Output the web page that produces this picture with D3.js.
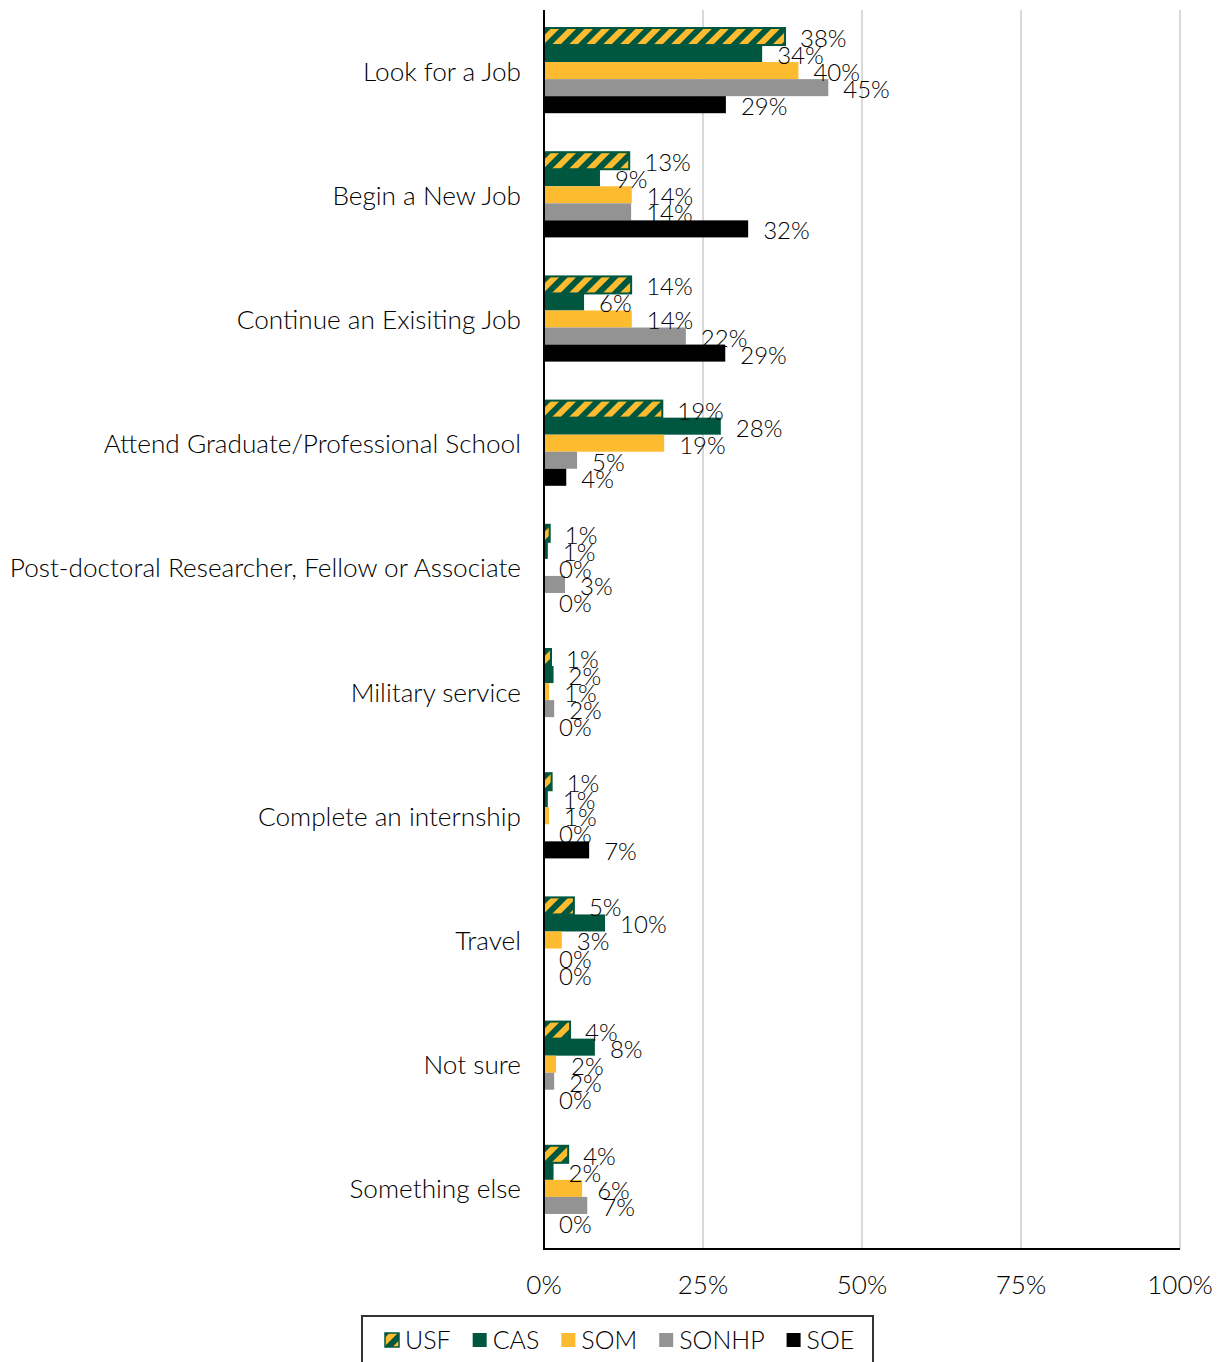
<html>
<head>
  <title>Plans after graduation</title>
  <script src="https://cdnjs.cloudflare.com/ajax/libs/d3/7.8.5/d3.min.js"></script>
  <style>
    body { margin: 0; background: #fff; }
    text { font-family: Lato, "Open Sans", sans-serif; font-weight: 300; fill: #000; }
  </style>
</head>
<body>
<script type="text/javascript">
  // categories, top to bottom
  var categories = ["Look for a Job", "Begin a New Job", "Continue an Exisiting Job",
    "Attend Graduate/Professional School", "Post-doctoral Researcher, Fellow or Associate",
    "Military service", "Complete an internship", "Travel", "Not sure", "Something else"];

  var seriesNames = ["USF", "CAS", "SOM", "SONHP", "SOE"];

  // values in %
  var usf   = [37.9, 13.4, 13.7, 18.6, 0.9, 1.1, 1.2, 4.7, 4.1, 3.8];
  var cas   = [34.3,  8.8,  6.3, 27.8, 0.6, 1.5, 0.6, 9.6, 8.0, 1.5];
  var som   = [40.0, 13.8, 13.8, 18.9, 0.0, 0.8, 0.8, 2.8, 1.9, 6.0];
  var sonhp = [44.7, 13.7, 22.3,  5.2, 3.3, 1.6, 0.0, 0.0, 1.6, 6.8];
  var soe   = [28.6, 32.1, 28.5,  3.5, 0.0, 0.0, 7.1, 0.0, 0.0, 0.0];

  var ticks = [0, 25, 50, 75, 100];

  var seriesValues = [usf, cas, som, sonhp, soe];
  var colors = ["url(#stripes)", "#00573f", "#fdbb30", "#939393", "#000000"];

  var width = 1221, height = 1362;

  var svg = d3.select("body").append("svg")
    .attr("width", width)
    .attr("height", height);

  // striped fill for USF
  var pat = svg.append("defs").append("pattern")
    .attr("id", "stripes")
    .attr("patternUnits", "userSpaceOnUse")
    .attr("width", 12)
    .attr("height", 12)
    .attr("patternTransform", "rotate(45)");
  pat.append("rect").attr("width", 12).attr("height", 12).attr("fill", "#fdbb30");
  pat.append("rect").attr("width", 6).attr("height", 12).attr("fill", "#00573f");

  var x = d3.scaleLinear().domain([0, 100]).range([544, 1180]);

  var y = d3.scaleBand()
    .domain(categories)
    .range([10, 1249])
    .paddingInner(0.314)
    .paddingOuter(0.145);

  var y1 = d3.scaleBand()
    .domain(seriesNames)
    .range([0, y.bandwidth()]);

  // gridlines
  svg.selectAll("line.grid")
    .data(ticks.slice(1))
    .enter().append("line")
    .attr("class", "grid")
    .attr("x1", function (d) { return x(d); })
    .attr("x2", function (d) { return x(d); })
    .attr("y1", 10)
    .attr("y2", 1249)
    .attr("stroke", "#d9d9d9")
    .attr("stroke-width", 2);

  // tick labels
  svg.selectAll("text.tick")
    .data(ticks)
    .enter().append("text")
    .attr("class", "tick")
    .attr("x", function (d) { return x(d); })
    .attr("y", 1294)
    .attr("text-anchor", "middle")
    .style("font-size", "26px")
    .text(function (d) { return d + "%"; });

  // bars
  var groups = svg.selectAll("g.cat")
    .data(categories)
    .enter().append("g")
    .attr("class", "cat")
    .attr("transform", function (d) { return "translate(0," + y(d) + ")"; });

  groups.each(function (c, ci) {
    var g = d3.select(this);
    var rows = seriesNames.map(function (s, si) {
      return { s: s, si: si, v: seriesValues[si][ci] };
    });

    g.selectAll("rect")
      .data(rows)
      .enter().append("rect")
      .attr("x", x(0))
      .attr("y", function (d) { return y1(d.s); })
      .attr("width", function (d) { return x(d.v) - x(0); })
      .attr("height", y1.bandwidth())
      .attr("fill", function (d) { return colors[d.si]; })
      .attr("stroke", function (d) { return d.si === 0 && d.v > 0 ? "#00573f" : "none"; })
      .attr("stroke-width", 2);

    g.selectAll("text")
      .data(rows)
      .enter().append("text")
      .attr("x", function (d) { return x(d.v) + 15; })
      .attr("y", function (d) { return y1(d.s) + y1.bandwidth() / 2 + 1; })
      .attr("dominant-baseline", "central")
      .style("font-size", "24px")
      .text(function (d) { return Math.round(d.v) + "%"; });
  });

  // category labels
  svg.selectAll("text.cat")
    .data(categories)
    .enter().append("text")
    .attr("class", "cat")
    .attr("x", 521)
    .attr("y", function (d) { return y(d) + y.bandwidth() / 2; })
    .attr("text-anchor", "end")
    .attr("dominant-baseline", "central")
    .style("font-size", "26.2px")
    .text(function (d) { return d; });

  // axes lines
  svg.append("line")
    .attr("x1", x(0)).attr("x2", x(0))
    .attr("y1", 10).attr("y2", 1250)
    .attr("stroke", "#000").attr("stroke-width", 2);
  svg.append("line")
    .attr("x1", x(0)).attr("x2", x(100))
    .attr("y1", 1249).attr("y2", 1249)
    .attr("stroke", "#000").attr("stroke-width", 2);

  // legend
  var legend = svg.append("g");
  legend.append("rect")
    .attr("x", 362).attr("y", 1316)
    .attr("width", 511).attr("height", 60)
    .attr("fill", "#fff")
    .attr("stroke", "#333").attr("stroke-width", 2);

  var lx = 385;
  seriesNames.forEach(function (s, i) {
    legend.append("rect")
      .attr("x", lx).attr("y", 1333)
      .attr("width", 14).attr("height", 14)
      .attr("fill", colors[i])
      .attr("stroke", i === 0 ? "#00573f" : "none")
      .attr("stroke-width", 1.5);
    var t = legend.append("text")
      .attr("x", lx + 20)
      .attr("y", 1349)
      .style("font-size", "25px")
      .text(s);
    lx += 20 + t.node().getComputedTextLength() + 22;
  });
</script>
</body>
</html>
